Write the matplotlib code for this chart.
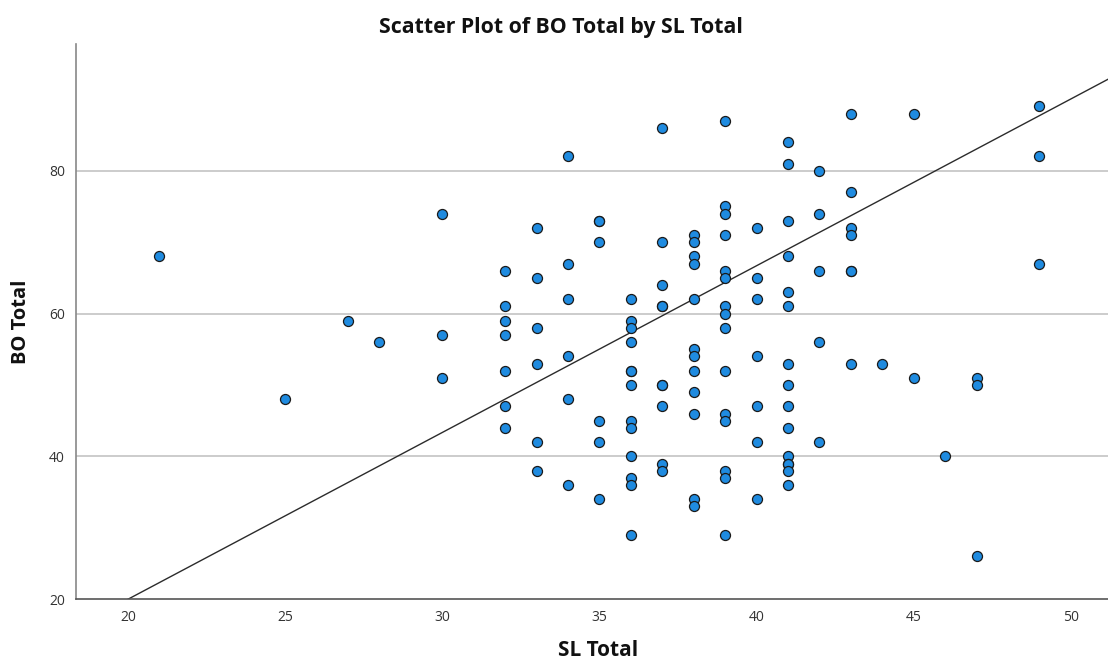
import matplotlib
matplotlib.use("Agg")
import matplotlib.pyplot as plt
import numpy as np

# SL Total (x) and BO Total (y) observations, grouped by SL Total value
sl_values = [21, 25, 27, 28, 30, 30, 30,
             32, 32, 32, 32, 32, 32, 32,
             33, 33, 33, 33, 33, 33,
             34, 34, 34, 34, 34, 34,
             35, 35, 35, 35, 35, 35,
             36, 36, 36, 36, 36, 36, 36, 36, 36, 36, 36, 36, 36,
             37, 37, 37, 37, 37, 37, 37, 37, 37, 37,
             38, 38, 38, 38, 38, 38, 38, 38, 38, 38, 38, 38,
             39, 39, 39, 39, 39, 39, 39, 39, 39, 39, 39, 39, 39, 39, 39,
             40, 40, 40, 40, 40, 40, 40,
             41, 41, 41, 41, 41, 41, 41, 41, 41, 41, 41, 41, 41, 41, 41,
             42, 42, 42, 42, 42,
             43, 43, 43, 43, 43, 43, 43,
             44, 45, 45, 46, 47, 47, 47, 49, 49, 49]
bo_values = [68, 48, 59, 56, 74, 57, 51,
             66, 61, 59, 57, 52, 47, 44,
             72, 65, 58, 53, 42, 38,
             82, 67, 62, 54, 48, 36,
             73, 73, 70, 45, 42, 34,
             62, 59, 58, 56, 52, 52, 50, 45, 44, 40, 37, 36, 29,
             86, 70, 64, 61, 61, 50, 50, 47, 39, 38,
             71, 70, 68, 67, 62, 55, 54, 52, 49, 46, 34, 33,
             87, 75, 74, 71, 66, 65, 61, 60, 58, 52, 46, 45, 38, 37, 29,
             72, 65, 62, 54, 47, 42, 34,
             84, 81, 73, 68, 63, 61, 53, 50, 47, 44, 40, 39, 39, 38, 36,
             80, 74, 66, 56, 42,
             88, 77, 72, 71, 66, 66, 53,
             53, 88, 51, 40, 51, 50, 26, 89, 82, 67]

# Reference line drawn on the chart (intercept, slope)
line_intercept = -26.7
line_slope = 2.335

x_ticks = [20, 25, 30, 35, 40, 45, 50]
y_ticks = [20, 40, 60, 80]

fig = plt.figure(figsize=(11.08, 6.63), dpi=100)
ax = fig.add_axes([76 / 1108, 1 - 599.3 / 663, 1 - 76 / 1108, (599.3 - 44.3) / 663])

ax.set_xlim(18.35, 51.18)
ax.set_ylim(20, 97.7)

for yt in y_ticks[1:]:
    ax.axhline(yt, color="#c8c8c8", linewidth=1.3, zorder=0)

xl = np.array(ax.get_xlim())
ax.plot(xl, line_intercept + line_slope * xl, color="#2b2b2b", linewidth=1.0, zorder=2)

ax.scatter(sl_values, bo_values, s=52, facecolor="#1f8be0", edgecolor="#1a1a1a",
           linewidth=0.9, zorder=3, clip_on=False)

ax.set_xticks(x_ticks)
ax.set_yticks(y_ticks)
ax.tick_params(length=0, labelsize=10, labelcolor="#333333", pad=8)
for lab in ax.get_xticklabels() + ax.get_yticklabels():
    lab.set_fontfamily("Open Sans")

for s in ["top", "right"]:
    ax.spines[s].set_visible(False)
ax.spines["left"].set_color("#888888")
ax.spines["left"].set_linewidth(1.2)
ax.spines["bottom"].set_color("#555555")
ax.spines["bottom"].set_linewidth(1.2)

fig.text(561 / 1108, 1 - 27 / 663, "Scatter Plot of BO Total by SL Total",
         ha="center", va="center", fontsize=15.3, fontweight="bold",
         fontfamily="Open Sans", color="#111111")
fig.text(598 / 1108, 1 - 651 / 663, "SL Total", ha="center", va="center",
         fontsize=15, fontweight="bold", fontfamily="Open Sans", color="#111111")
fig.text(21 / 1108, 1 - 322 / 663, "BO Total", ha="center", va="center",
         rotation=90, fontsize=14.5, fontweight="bold", fontfamily="Open Sans",
         color="#111111")

fig.savefig("out.png", dpi=100)
